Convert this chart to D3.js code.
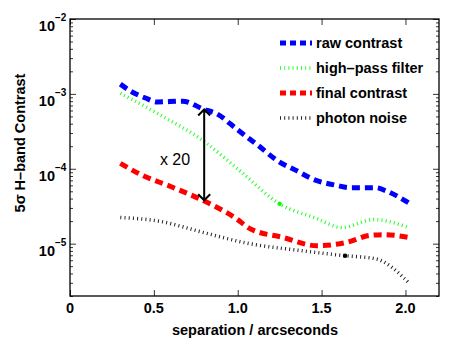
<!DOCTYPE html>
<html>
<head>
<meta charset="utf-8">
<script src="https://cdn.jsdelivr.net/npm/d3@7"></script>
<style>
  body { margin: 0; background: #fff; }
  text { font-family: "Liberation Sans", Arial, sans-serif; }
</style>
</head>
<body>
<div id="chart"></div>
<script>
// separation (arcsec) and 5-sigma contrast for each curve
const rawSep = [0.30, 0.37, 0.45, 0.52, 0.67, 0.80, 0.87, 1.00, 1.12, 1.24, 1.36, 1.44, 1.59, 1.67, 1.82, 1.89, 2.02];
const rawContrast = [1.35e-3, 1.06e-3, 8.8e-4, 7.8e-4, 8.0e-4, 6.2e-4, 5.5e-4, 3.3e-4, 2.06e-4, 1.27e-4, 9.2e-5, 7.4e-5, 6.0e-5, 5.6e-5, 5.6e-5, 5.0e-5, 3.5e-5];

const hpSep = [0.30, 0.54, 0.79, 1.01, 1.25, 1.47, 1.62, 1.81, 2.02];
const highPass = [1.02e-3, 5.2e-4, 2.4e-4, 9.5e-5, 3.4e-5, 2.17e-5, 1.64e-5, 2.1e-5, 1.64e-5];

const finalSep = [0.30, 0.43, 0.60, 0.79, 0.99, 1.07, 1.27, 1.47, 1.65, 1.79, 1.87, 2.02];
const finalContrast = [1.18e-4, 8.2e-5, 5.8e-5, 3.8e-5, 2.17e-5, 1.6e-5, 1.21e-5, 9.4e-6, 1.04e-5, 1.29e-5, 1.32e-5, 1.21e-5];

const noiseSep = [0.30, 0.54, 0.80, 1.07, 1.37, 1.64, 1.82, 2.02];
const photonNoise = [2.24e-5, 1.98e-5, 1.4e-5, 1.0e-5, 8.1e-6, 6.9e-6, 6.3e-6, 3.0e-6];

// single highlighted points
const markSep = [1.25, 1.64];
const markVal = [3.4e-5, 6.9e-6];
const markColor = ['#00ff00', '#000000'];

// x20 arrow
const arrowSep = 0.8;
const arrowEnds = [6.2e-4, 3.8e-5];

const xTicks = [0, 0.5, 1.0, 1.5, 2.0];
const xTickLabels = ['0', '0.5', '1.0', '1.5', '2.0'];
const yMajor = [1e-5, 1e-4, 1e-3, 1e-2];
const yExp = ['\u22125', '\u22124', '\u22123', '\u22122'];

const width = 461;
const height = 346;
const plotLeft = 70, plotRight = 439, plotTop = 19, plotBottom = 296;

const svg = d3.select('#chart').append('svg')
  .attr('width', width)
  .attr('height', height);

const x = d3.scaleLinear().domain([0, 2.2]).range([plotLeft, plotRight]);
const y = d3.scaleLog().domain([2e-6, 1e-2]).range([plotBottom, plotTop]);

// ticks (inward), all four sides
const minor = y.ticks().filter(v => !yMajor.some(m => Math.abs(m - v) / m < 1e-6));

function tickAxis(axis, transform) {
  const g = svg.append('g').attr('transform', transform).call(axis);
  g.select('.domain').remove();
  g.selectAll('line').attr('stroke', '#000').attr('stroke-width', 0.8);
  return g;
}
tickAxis(d3.axisLeft(y).tickValues(minor).tickSize(-3).tickFormat(''), `translate(${plotLeft},0)`);
tickAxis(d3.axisLeft(y).tickValues(yMajor).tickSize(-6).tickFormat(''), `translate(${plotLeft},0)`);
tickAxis(d3.axisRight(y).tickValues(minor).tickSize(-3).tickFormat(''), `translate(${plotRight},0)`);
tickAxis(d3.axisRight(y).tickValues(yMajor).tickSize(-6).tickFormat(''), `translate(${plotRight},0)`);
tickAxis(d3.axisBottom(x).tickValues(xTicks).tickSize(-6).tickFormat(''), `translate(0,${plotBottom})`);
tickAxis(d3.axisTop(x).tickValues(xTicks).tickSize(-6).tickFormat(''), `translate(0,${plotTop})`);

svg.append('rect')
  .attr('x', plotLeft).attr('y', plotTop)
  .attr('width', plotRight - plotLeft).attr('height', plotBottom - plotTop)
  .attr('fill', 'none').attr('stroke', '#000').attr('stroke-width', 1.3);

// tick labels
svg.append('g').selectAll('text')
  .data(xTicks)
  .enter().append('text')
  .attr('x', d => x(d))
  .attr('y', plotBottom + 17)
  .attr('text-anchor', 'middle')
  .style('font-size', '14.5px')
  .style('font-weight', 'bold')
  .text((d, i) => xTickLabels[i]);

const yl = svg.append('g').selectAll('g')
  .data(yMajor)
  .enter().append('g');
yl.append('text')
  .attr('x', 55)
  .attr('y', d => y(d) + 12)
  .attr('text-anchor', 'end')
  .style('font-size', '14.5px')
  .style('font-weight', 'bold')
  .text('10');
yl.append('text')
  .attr('x', 55)
  .attr('y', d => y(d) + 2)
  .style('font-size', '10px')
  .style('font-weight', 'bold')
  .text((d, i) => yExp[i]);

// axis titles
svg.append('text')
  .attr('x', 255)
  .attr('y', 335)
  .attr('text-anchor', 'middle')
  .style('font-size', '14.5px')
  .style('font-weight', 'bold')
  .text('separation / arcseconds');

svg.append('text')
  .attr('transform', 'translate(25,143) rotate(-90)')
  .attr('text-anchor', 'middle')
  .style('font-size', '14.5px')
  .style('font-weight', 'bold')
  .text('5\u03c3 H\u2013band Contrast');

// curves
const series = [
  { name: 'raw contrast', sep: rawSep, val: rawContrast, color: '#0000ff', w: 5, dash: '8,5' },
  { name: 'high\u2013pass filter', sep: hpSep, val: highPass, color: '#22ff22', w: 3.5, dash: '1,3.2' },
  { name: 'final contrast', sep: finalSep, val: finalContrast, color: '#ff0000', w: 5, dash: '8,5' },
  { name: 'photon noise', sep: noiseSep, val: photonNoise, color: '#222222', w: 3.5, dash: '1,3.2' }
];

const line = d3.line()
  .x(d => x(d[0]))
  .y(d => y(d[1]))
  .curve(d3.curveMonotoneX);

svg.append('g').selectAll('path')
  .data(series)
  .enter().append('path')
  .attr('d', s => line(d3.zip(s.sep, s.val)))
  .attr('fill', 'none')
  .attr('stroke', s => s.color)
  .attr('stroke-width', s => s.w)
  .attr('stroke-dasharray', s => s.dash);

svg.append('g').selectAll('circle')
  .data(markSep)
  .enter().append('circle')
  .attr('cx', d => x(d))
  .attr('cy', (d, i) => y(markVal[i]))
  .attr('r', 2.2)
  .attr('fill', (d, i) => markColor[i]);

// double-headed arrow
const ax = x(arrowSep);
const ay1 = y(arrowEnds[0]);
const ay2 = y(arrowEnds[1]);
const arrow = svg.append('g')
  .attr('stroke', '#000')
  .attr('stroke-width', 2)
  .attr('fill', 'none');
arrow.append('line').attr('x1', ax).attr('x2', ax).attr('y1', ay1).attr('y2', ay2);
arrow.append('path').attr('d', `M${ax - 6},${ay1 + 6}L${ax},${ay1}L${ax + 6},${ay1 + 6}`);
arrow.append('path').attr('d', `M${ax - 6},${ay2 - 6}L${ax},${ay2}L${ax + 6},${ay2 - 6}`);

svg.append('text')
  .attr('x', 175)
  .attr('y', 165)
  .attr('text-anchor', 'middle')
  .style('font-size', '16px')
  .text('x 20');

// legend
const legend = svg.append('g').selectAll('g')
  .data(series)
  .enter().append('g')
  .attr('transform', (d, i) => `translate(280,${43 + i * 25})`);
legend.append('line')
  .attr('x1', 0).attr('x2', 32)
  .attr('stroke', s => s.color)
  .attr('stroke-width', s => s.w)
  .attr('stroke-dasharray', s => s.w === 5 ? '6,4' : '1,3.2');
legend.append('text')
  .attr('x', 36)
  .attr('y', 5)
  .style('font-size', '14.5px')
  .style('font-weight', 'bold')
  .text(s => s.name);
</script>
</body>
</html>
